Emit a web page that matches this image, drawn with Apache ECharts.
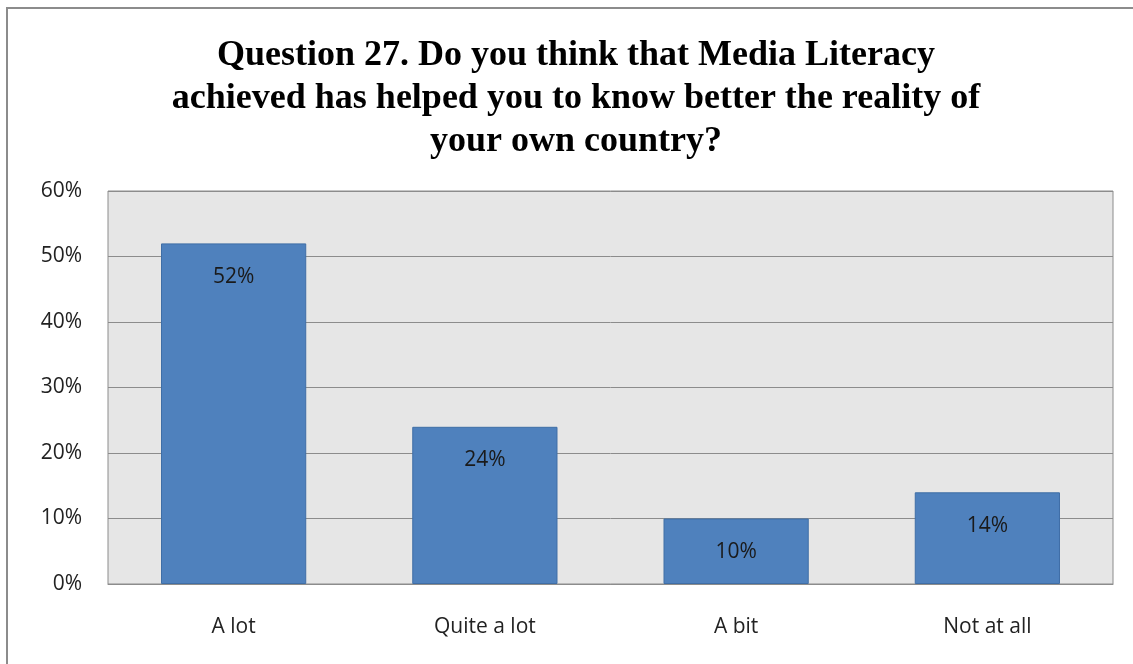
<!DOCTYPE html>
<html><head><meta charset="utf-8">
<script src="https://cdn.jsdelivr.net/npm/echarts@6/dist/echarts.min.js"></script>
<style>html,body{margin:0;padding:0;background:#fff}#c{width:1133px;height:664px}</style>
</head><body><div id="c"></div>
<script>
const categories = ['A lot', 'Quite a lot', 'A bit', 'Not at all'];
const values = [52, 24, 10, 14];
const yTicks = [0, 10, 20, 30, 40, 50, 60];
const titleText = 'Question 27. Do you think that Media Literacy\nachieved has helped you to know better the reality of\nyour own country?';

const labelFont = 'Open Sans';
const chart = echarts.init(document.getElementById('c'));
chart.setOption({
  animation: false,
  backgroundColor: '#fff',
  graphic: [{
    type: 'rect', shape: {x: 7, y: 8, width: 1140, height: 670},
    style: {fill: 'none', stroke: '#8c8c8c', lineWidth: 2}, silent: true, z: -1
  }],
  title: {
    text: titleText, left: 571, textAlign: 'center', top: 29,
    textStyle: {fontFamily: 'Liberation Serif', fontWeight: 'bold', fontSize: 36, lineHeight: 43, color: '#000'}
  },
  grid: {left: 108, top: 191, width: 1005, height: 393, containLabel: false,
    show: true, backgroundColor: '#e6e6e6', borderColor: '#8c8c8c', borderWidth: 1},
  xAxis: {
    type: 'category', data: categories,
    axisLine: {lineStyle: {color: '#8c8c8c'}}, axisTick: {show: false},
    axisLabel: {color: '#222', fontFamily: labelFont, fontSize: 21, margin: 33}
  },
  yAxis: {
    type: 'value', min: 0, max: 60, interval: 10,
    axisLine: {show: false}, axisTick: {show: false},
    splitLine: {lineStyle: {color: '#8c8c8c', width: 1}},
    axisLabel: {color: '#222', fontFamily: labelFont, fontSize: 21, margin: 26,
      formatter: v => yTicks.includes(v) ? v + '%' : ''}
  },
  series: [{
    type: 'bar', data: values, barWidth: '57.8%',
    itemStyle: {color: '#4f81bd', borderColor: '#3f6ea6', borderWidth: 1},
    label: {show: true, position: 'insideTop', distance: 23, formatter: p => p.value + '%',
      color: '#1a1a1a', fontFamily: labelFont, fontSize: 21}
  }]
});
</script></body></html>
